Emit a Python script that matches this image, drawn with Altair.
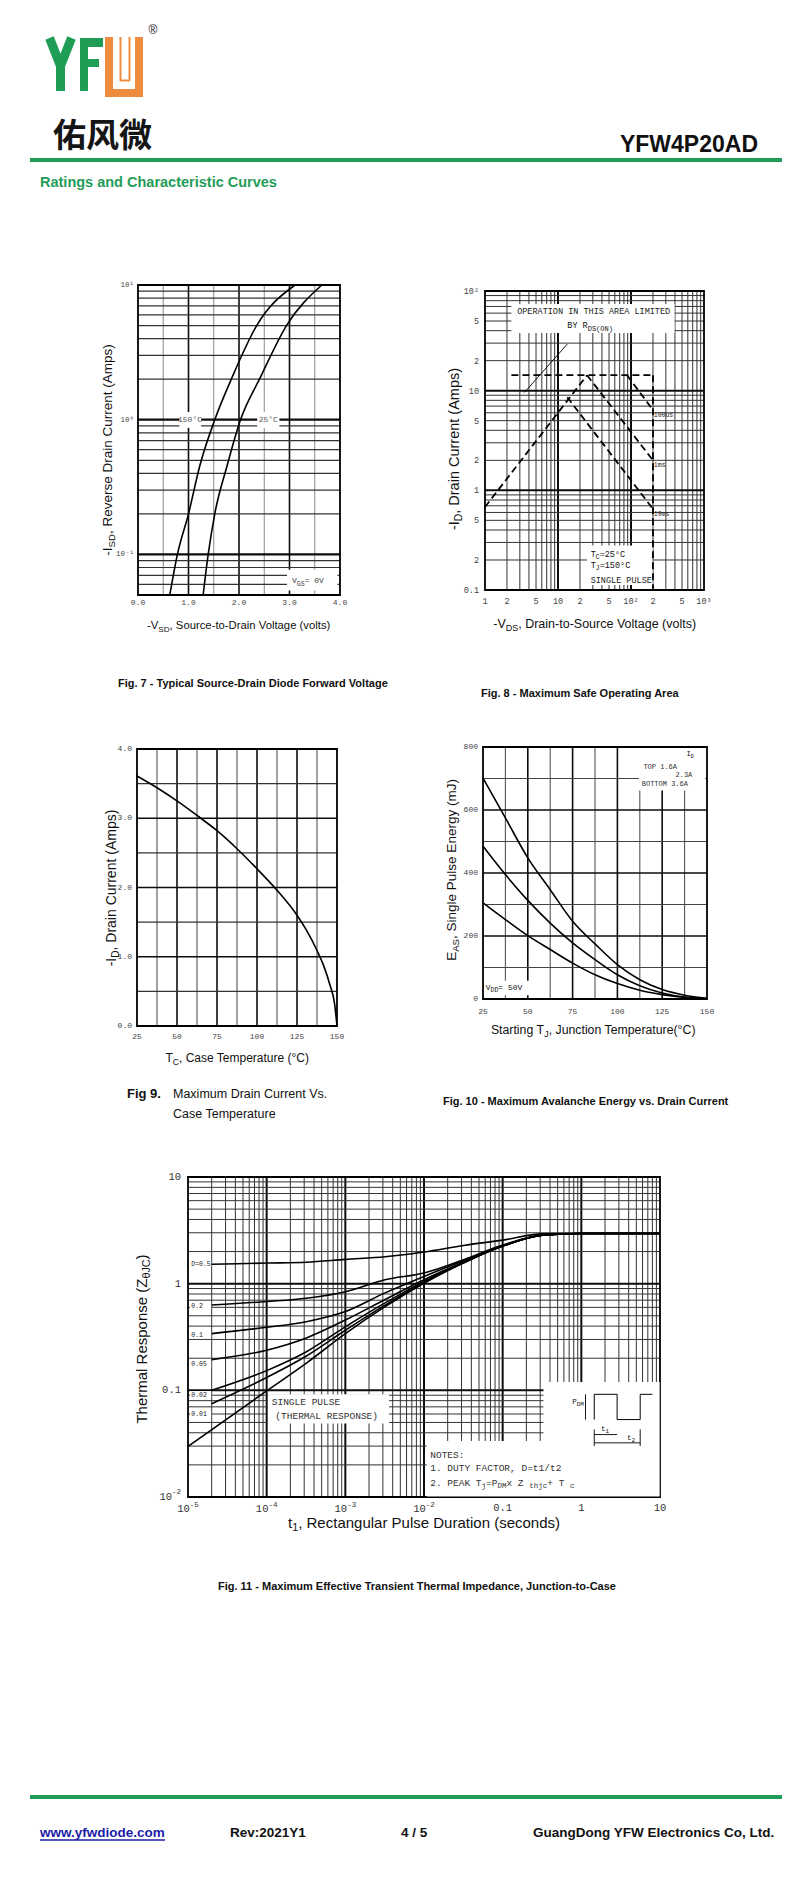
import altair as alt
import pandas as pd

# ============ DATA ============
# Fig 7 - source-drain diode forward voltage
F7_V_150 = [0.63, 0.78, 1.0, 1.22, 1.52, 1.86, 2.35, 3.11]
F7_I_150 = [0.05, 0.1, 0.2, 0.45, 1.0, 2.05, 5.0, 10.0]
F7_V_25 = [1.29, 1.39, 1.52, 1.76, 2.03, 2.42, 2.94, 3.64]
F7_I_25 = [0.05, 0.1, 0.2, 0.45, 1.0, 2.05, 5.0, 10.0]
F7_XTICKS = [0, 1, 2, 3, 4]
F7_XLABELS = ["0.0", "1.0", "2.0", "3.0", "4.0"]
F7_YTICKS = [0.1, 1, 10]
F7_YLABELS = ["10⁻¹", "10⁰", "10¹"]

# Fig 8 - safe operating area (dashed boundaries)
F8_RISE_V = [1, 25]
F8_RISE_I = [0.68, 14.3]
F8_TOP_V = [2.3, 200]
F8_TOP_I = [14.3, 14.3]
F8_100US_V = [88, 200]
F8_100US_I = [14.3, 6.4]
F8_1MS_V = [25, 200]
F8_1MS_I = [14.3, 2.0]
F8_10MS_V = [13.4, 200]
F8_10MS_I = [8.6, 0.65]
F8_EDGE_V = [200, 200]
F8_EDGE_I = [14.3, 0.1]
F8_XTICKS = [1, 2, 5, 10, 20, 50, 100, 200, 500, 1000]
F8_XLABELS = ["1", "2", "5", "10", "2", "5", "10²", "2", "5", "10³"]
F8_YTICKS = [0.1, 0.2, 0.5, 1, 2, 5, 10, 20, 50, 100]
F8_YLABELS = ["0.1", "2", "5", "1", "2", "5", "10", "2", "5", "10²"]

# Fig 9 - max drain current vs case temperature
F9_T = [25, 37.5, 50, 62.5, 75, 87.5, 100, 112.5, 125, 131, 137.5, 142, 145.5, 148.5, 150]
F9_I = [3.61, 3.44, 3.25, 3.04, 2.82, 2.56, 2.27, 1.96, 1.60, 1.38, 1.09, 0.85, 0.6, 0.32, 0.0]
F9_XTICKS = [25, 50, 75, 100, 125, 150]
F9_YTICKS = [0, 1, 2, 3, 4]
F9_YLABELS = ["0.0", "1.0", "2.0", "3.0", "4.0"]

# Fig 10 - avalanche energy vs starting Tj
F10_T = [25, 37.5, 50, 62.5, 75, 87.5, 100, 112.5, 125, 137.5, 150]
F10_E_16A = [701, 575, 448, 347, 247, 175, 109, 61, 30, 12, 2]
F10_E_23A = [485, 395, 313, 241, 178, 125, 77, 42, 19, 6, 1]
F10_E_36A = [305, 252, 201, 157, 114, 77, 49, 28, 14, 5, 1]
F10_XTICKS = [25, 50, 75, 100, 125, 150]
F10_YTICKS = [0, 200, 400, 600, 800]

# Fig 11 - transient thermal impedance
F11_T = [2e-5, 1e-4, 3.2e-4, 1e-3, 3.2e-3, 1e-2, 3.2e-2, 0.1, 0.32, 1, 10]
F11_D50 = [1.52, 1.56, 1.59, 1.69, 1.79, 1.98, 2.28, 2.56, 2.93, 2.95, 2.95]
F11_D20 = [0.63, 0.68, 0.73, 0.84, 1.09, 1.26, 1.68, 2.30, 2.86, 2.95, 2.95]
F11_D10 = [0.34, 0.39, 0.44, 0.547, 0.82, 1.17, 1.64, 2.27, 2.85, 2.95, 2.95]
F11_D05 = [0.194, 0.238, 0.31, 0.456, 0.71, 1.09, 1.60, 2.25, 2.84, 2.95, 2.95]
F11_D02 = [0.10, 0.153, 0.23, 0.394, 0.66, 1.05, 1.58, 2.25, 2.84, 2.95, 2.95]
F11_D01 = [0.075, 0.132, 0.21, 0.366, 0.63, 1.027, 1.57, 2.25, 2.84, 2.95, 2.95]
F11_TS = [1e-5, 1e-4, 3.2e-4, 1e-3, 3.2e-3, 1e-2, 3.2e-2, 0.1, 0.32, 1, 10]
F11_SINGLE = [0.0298, 0.0988, 0.18, 0.34, 0.61, 1.01, 1.57, 2.25, 2.84, 2.95, 2.95]
F11_DLABELS = ["D=0.5", "0.2", "0.1", "0.05", "0.02", "0.01"]
F11_DLABEL_Z = [1.52, 0.62, 0.33, 0.177, 0.091, 0.06]
F11_XPOW = [1e-5, 1e-4, 1e-3, 1e-2]
F11_XPOW_EXP = ["-5", "-4", "-3", "-2"]
F11_XPLAIN = [0.1, 1, 10]
F11_XPLAIN_LAB = ["0.1", "1", "10"]
F11_YPLAIN = [0.1, 1, 10]
F11_YPLAIN_LAB = ["0.1", "1", "10"]

# ============ STYLE / HELPERS ============
OFF = 8
SANS = "Liberation Sans, Arial, DejaVu Sans, sans-serif"
MONO = "Liberation Mono, DejaVu Sans Mono, monospace"
CJK = "Noto Sans CJK SC, sans-serif"
GREEN = "#1f9d57"
ORANGE = "#ee8b3e"
INK = "#111111"

_chars = " !\"#$%&'()*+,-./0123456789:;<=>?@ABCDEFGHIJKLMNOPQRSTUVWXYZ[\\]^_`abcdefghijklmnopqrstuvwxyz"
_w = ([278, 278, 355, 556, 556, 889, 667, 191, 333, 333, 389, 584, 278, 333, 278, 278] + [556] * 10 +
      [278, 278, 584, 584, 584, 556, 1015] +
      [667, 667, 722, 722, 667, 611, 778, 722, 278, 500, 667, 556, 833, 722, 778, 667, 778, 722, 667, 611,
       722, 667, 944, 667, 667, 611] +
      [278, 278, 278, 469, 556, 333] +
      [556, 556, 500, 556, 556, 278, 556, 556, 222, 222, 500, 222, 833, 556, 556, 556, 556, 333, 500, 278,
       556, 500, 722, 500, 500, 500])
HELV = dict(zip(_chars, _w))
HELV["°"] = 400
HELV["θ"] = 556


def tw(s, size, font, weight="normal"):
    first = font.split(",")[0]
    if "Mono" in first:
        return 0.6 * size * len(s)
    w = sum(HELV.get(c, 556) for c in s) / 1000.0 * size
    if weight == "bold":
        w *= 1.06
    return w


def P(v):
    return v - OFF


DUMMY = pd.DataFrame({"d": [0]})
layers = []


def add(*charts):
    layers.extend(charts)


def ptext(s, x, y, size, font=SANS, color=INK, weight="normal", align="left", angle=0, baseline="alphabetic"):
    return alt.Chart(DUMMY).mark_text(text=s, fontSize=size, font=font, color=color, fontWeight=weight,
                                      align=align, angle=angle, baseline=baseline).encode(
        x=alt.value(P(x)), y=alt.value(P(y)))


def prule(x1, y1, x2, y2, color, width, cap="butt"):
    return alt.Chart(DUMMY).mark_rule(color=color, strokeWidth=width, strokeCap=cap).encode(
        x=alt.value(P(x1)), y=alt.value(P(y1)), x2=alt.value(P(x2)), y2=alt.value(P(y2)))


def prect(x1, y1, x2, y2, color):
    return alt.Chart(DUMMY).mark_rect(color=color).encode(
        x=alt.value(P(x1)), y=alt.value(P(y1)), x2=alt.value(P(x2)), y2=alt.value(P(y2)))


def rich(parts, align="center", angle=0, px=None, data=None, xdata=None, ydata=None, color=INK,
         baseline="alphabetic"):
    """Multi-style text. Anchor: px=(x,y) page pixels; data=(xv,yv,XS,YS);
    xdata=(xv,XS) with y pixel px[1]; ydata=(yv,YS) with x pixel px[0]."""
    ws = [tw(t, s, f, w) for (t, s, f, w, sh) in parts]
    total = sum(ws)
    cur = {"center": -total / 2.0, "left": 0.0, "right": -total}[align]
    out = []
    for (t, s, f, w, sh), wd in zip(parts, ws):
        mk = dict(text=t, fontSize=s, font=f, fontWeight=w, color=color, align="left",
                  baseline=baseline, angle=angle, dx=cur, dy=sh)
        if data is not None:
            xv, yv, XS, YS = data
            ch = alt.Chart(pd.DataFrame({"x": [xv], "y": [yv]})).mark_text(**mk).encode(
                x=alt.X("x:Q", scale=XS, axis=None), y=alt.Y("y:Q", scale=YS, axis=None))
        elif xdata is not None:
            xv, XS = xdata
            ch = alt.Chart(pd.DataFrame({"x": [xv]})).mark_text(**mk).encode(
                x=alt.X("x:Q", scale=XS, axis=None), y=alt.value(P(px[1])))
        elif ydata is not None:
            yv, YS = ydata
            ch = alt.Chart(pd.DataFrame({"y": [yv]})).mark_text(**mk).encode(
                y=alt.Y("y:Q", scale=YS, axis=None), x=alt.value(P(px[0])))
        else:
            ch = alt.Chart(DUMMY).mark_text(**mk).encode(x=alt.value(P(px[0])), y=alt.value(P(px[1])))
        out.append(ch)
        cur += wd
    return out


def vlines(vals, XS, YS, ylo, yhi, color, width):
    df = pd.DataFrame({"v": vals, "a": [ylo] * len(vals), "b": [yhi] * len(vals)})
    return alt.Chart(df).mark_rule(color=color, strokeWidth=width).encode(
        x=alt.X("v:Q", scale=XS, axis=None), y=alt.Y("a:Q", scale=YS, axis=None), y2="b:Q")


def hlines(vals, XS, YS, xlo, xhi, color, width):
    df = pd.DataFrame({"v": vals, "a": [xlo] * len(vals), "b": [xhi] * len(vals)})
    return alt.Chart(df).mark_rule(color=color, strokeWidth=width).encode(
        y=alt.Y("v:Q", scale=YS, axis=None), x=alt.X("a:Q", scale=XS, axis=None), x2="b:Q")


def box(x0, x1, y0, y1, XS, YS, fill="white", stroke=None, sw=1.5):
    df = pd.DataFrame({"x0": [x0], "x1": [x1], "y0": [y0], "y1": [y1]})
    if stroke is None:
        m = alt.Chart(df).mark_rect(color=fill)
    else:
        m = alt.Chart(df).mark_rect(fillOpacity=0, stroke=stroke, strokeWidth=sw)
    return m.encode(x=alt.X("x0:Q", scale=XS, axis=None), x2="x1:Q",
                    y=alt.Y("y0:Q", scale=YS, axis=None), y2="y1:Q")


def curve(xs, ys, XS, YS, width=1.6, dash=None, interp="monotone"):
    df = pd.DataFrame({"x": xs, "y": ys})
    kw = dict(color="black", strokeWidth=width, interpolate=interp)
    if dash:
        kw["strokeDash"] = dash
    return alt.Chart(df).mark_line(**kw).encode(
        x=alt.X("x:Q", scale=XS, axis=None), y=alt.Y("y:Q", scale=YS, axis=None))


def dtext(s, xv, yv, XS, YS, size, font=MONO, align="left", color="#222", baseline="middle"):
    df = pd.DataFrame({"x": [xv], "y": [yv]})
    return alt.Chart(df).mark_text(text=s, fontSize=size, font=font, align=align, color=color,
                                   baseline=baseline).encode(
        x=alt.X("x:Q", scale=XS, axis=None), y=alt.Y("y:Q", scale=YS, axis=None))


def xticks(vals, labels, XS, ypix, size=8, font=MONO, color="#444"):
    df = pd.DataFrame({"v": vals, "lab": labels})
    return alt.Chart(df).mark_text(fontSize=size, font=font, color=color, align="center",
                                   baseline="middle").encode(
        x=alt.X("v:Q", scale=XS, axis=None), y=alt.value(P(ypix)), text="lab:N")


def yticks(vals, labels, YS, xpix, size=8, font=MONO, color="#444"):
    df = pd.DataFrame({"v": vals, "lab": labels})
    return alt.Chart(df).mark_text(fontSize=size, font=font, color=color, align="right",
                                   baseline="middle").encode(
        y=alt.Y("v:Q", scale=YS, axis=None), x=alt.value(P(xpix)), text="lab:N")


def lin(d, r):
    return alt.Scale(domain=d, range=[P(r[0]), P(r[1])], nice=False, zero=False)


def logs(d, r):
    return alt.Scale(type="log", domain=d, range=[P(r[0]), P(r[1])], nice=False)


def decade_minors(e0, e1):
    return [m * 10.0 ** e for e in range(e0, e1) for m in range(2, 10)]


def T(t, size, font=SANS, weight="normal", shift=0):
    return (t, size, font, weight, shift)


def axis_title(main1, sub, main2, size, **kw):
    return rich([T(main1, size), T(sub, round(size * 0.72, 1), shift=round(size * 0.22, 1)), T(main2, size)], **kw)


MINOR_C, MAJOR_C = "#333333", "#0d0d0d"

# ============ HEADER ============
add(prule(49.5, 38, 60.5, 66, GREEN, 9), prule(71.5, 38, 60.5, 66, GREEN, 9),
    prule(60.5, 62, 60.5, 91, GREEN, 9))
add(prect(80, 38, 88, 91, GREEN), prect(80, 38, 103, 47, GREEN), prect(80, 59, 99, 67, GREEN))
add(prect(105, 37, 143, 97, ORANGE), prect(113, 37, 135, 89, "white"),
    prule(120.5, 37, 120.5, 81, ORANGE, 2), prule(129.5, 37, 129.5, 81, ORANGE, 2),
    prule(120.5, 80.5, 129.5, 80.5, ORANGE, 2))
add(ptext("®", 153, 34, 12, align="center"))
add(ptext("佑风微", 53, 147, 33, font=CJK, weight="bold", color="#151515"))
add(ptext("YFW4P20AD", 758, 152, 23, weight="bold", align="right"))
add(prule(30, 160, 782, 160, GREEN, 4))
add(ptext("Ratings and Characteristic Curves", 40, 187, 14.5, weight="bold", color=GREEN))

# ============ FIG 7 ============
X7 = lin([0, 4], (138, 340))
Y7 = logs([0.05, 10], (595, 285))
add(vlines([0.5, 1.5, 2.5, 3.5], X7, Y7, 0.05, 10, "#8a8a8a", 1.0))
add(vlines([1, 2, 3], X7, Y7, 0.05, 10, MAJOR_C, 1.6))
add(hlines([0.06, 0.07, 0.08, 0.09] + decade_minors(-1, 1), X7, Y7, 0, 4, MINOR_C, 1.2))
add(hlines([0.1, 1], X7, Y7, 0, 4, MAJOR_C, 2.2))
add(box(0, 4, 0.05, 10, X7, Y7, stroke="black", sw=1.8))
add(box(0.82, 1.25, 0.87, 1.14, X7, Y7), box(2.36, 2.8, 0.87, 1.14, X7, Y7),
    box(2.95, 3.95, 0.054, 0.077, X7, Y7))
add(curve(F7_V_150, F7_I_150, X7, Y7), curve(F7_V_25, F7_I_25, X7, Y7))
add(dtext("150°C", 1.03, 1.0, X7, Y7, 8, align="center", color="#555"),
    dtext("25°C", 2.58, 1.0, X7, Y7, 8, align="center", color="#555"))
add(*rich([T("V", 8, MONO, shift=2), T("GS", 6.5, MONO, shift=5), T(" = 0V", 8, MONO, shift=2)],
          align="left", data=(3.05, 0.064, X7, Y7), color="#444"))
add(xticks(F7_XTICKS, F7_XLABELS, X7, 603, 8), yticks(F7_YTICKS, F7_YLABELS, Y7, 134, 7.5))
add(*axis_title("-V", "SD", ", Source-to-Drain Voltage (volts)", 11.3, px=(239, 629)))
add(*axis_title("-I", "SD", ", Reverse Drain Current (Amps)", 13.5, angle=270, px=(112, 450)))
add(ptext("Fig. 7 - Typical Source-Drain Diode Forward Voltage", 118, 687, 11, weight="bold"))

# ============ FIG 8 ============
X8 = logs([1, 1000], (485, 704))
Y8 = logs([0.1, 100], (590, 291))
add(vlines(decade_minors(0, 3), X8, Y8, 0.1, 100, MINOR_C, 1.0))
add(vlines([10, 100], X8, Y8, 0.1, 100, MAJOR_C, 2.0))
add(hlines(decade_minors(-1, 2), X8, Y8, 1, 1000, MINOR_C, 1.0))
add(hlines([1, 10], X8, Y8, 1, 1000, MAJOR_C, 2.0))
add(box(1, 1000, 0.1, 100, X8, Y8, stroke="black", sw=1.8))
add(box(2.3, 395, 38, 74, X8, Y8), box(25, 197, 0.112, 0.28, X8, Y8))
DASH = [7, 4]
for vv, ii in [(F8_RISE_V, F8_RISE_I), (F8_TOP_V, F8_TOP_I), (F8_100US_V, F8_100US_I),
               (F8_1MS_V, F8_1MS_I), (F8_10MS_V, F8_10MS_I), (F8_EDGE_V, F8_EDGE_I)]:
    add(curve(vv, ii, X8, Y8, width=1.8, dash=DASH, interp="linear"))
add(curve([3.47, 13.4], [9.6, 29.3], X8, Y8, width=0.9, interp="linear"))
add(dtext("OPERATION IN THIS AREA LIMITED", 30.8, 63, X8, Y8, 8.5, align="center"))
add(*rich([T("BY R", 8.5, MONO), T("DS", 7, MONO, shift=3), T(" (ON)", 7, MONO, shift=3)],
          align="left", data=(13.4, 43, X8, Y8)))
add(dtext("100us", 205, 5.75, X8, Y8, 6.5), dtext("1ms", 205, 1.78, X8, Y8, 6.5),
    dtext("10ms", 205, 0.58, X8, Y8, 6.5))
add(*rich([T("T", 8.5, MONO), T("C", 6.5, MONO, shift=2), T("=25°C", 8.5, MONO)], align="left",
          data=(28, 0.215, X8, Y8)))
add(*rich([T("T", 8.5, MONO), T("J", 6.5, MONO, shift=2), T("=150°C", 8.5, MONO)], align="left",
          data=(28, 0.165, X8, Y8)))
add(dtext("SINGLE PULSE", 28, 0.127, X8, Y8, 8.5))
add(xticks(F8_XTICKS, F8_XLABELS, X8, 601, 8.5), yticks(F8_YTICKS, F8_YLABELS, Y8, 479, 8.5))
add(*axis_title("-V", "DS", ", Drain-to-Source Voltage (volts)", 12.5, px=(595, 628)))
add(*axis_title("-I", "D", ",  Drain Current (Amps)", 14.5, angle=270, px=(459, 447)))
add(ptext("Fig. 8 - Maximum Safe Operating Area", 481, 697, 11, weight="bold"))

# ============ FIG 9 ============
X9 = lin([25, 150], (137, 337))
Y9 = lin([0, 4], (1026, 749))
add(vlines([37.5, 62.5, 87.5, 112.5, 137.5], X9, Y9, 0, 4, "#555555", 1.1))
add(vlines([50, 75, 100, 125], X9, Y9, 0, 4, MAJOR_C, 1.6))
add(hlines([0.5, 1.5, 2.5, 3.5], X9, Y9, 25, 150, "#333333", 1.3))
add(hlines([1, 2, 3], X9, Y9, 25, 150, MAJOR_C, 1.7))
add(box(25, 150, 0, 4, X9, Y9, stroke="black", sw=1.8))
add(curve(F9_T, F9_I, X9, Y9, width=1.6))
add(xticks(F9_XTICKS, [str(v) for v in F9_XTICKS], X9, 1037, 8),
    yticks(F9_YTICKS, F9_YLABELS, Y9, 132, 8))
add(*axis_title("T", "C", ", Case Temperature (°C)", 12, px=(238, 1062)))
add(*axis_title("-I", "D", ", Drain Current (Amps)", 14, angle=270, px=(116, 888)))
add(ptext("Fig 9.", 127, 1098, 13, weight="bold"))
add(ptext("Maximum Drain Current Vs.", 173, 1098, 12.5))
add(ptext("Case Temperature", 173, 1118, 12.5))

# ============ FIG 10 ============
X10 = lin([25, 150], (483, 707))
Y10 = lin([0, 800], (999, 747))
add(vlines([37.5, 62.5, 87.5, 112.5, 137.5], X10, Y10, 0, 800, "#555555", 1.1))
add(vlines([50, 75, 100, 125], X10, Y10, 0, 800, MAJOR_C, 1.6))
add(hlines([100, 300, 500, 700], X10, Y10, 25, 150, "#444444", 1.2))
add(hlines([200, 400, 600], X10, Y10, 25, 150, MAJOR_C, 1.7))
add(box(25, 150, 0, 800, X10, Y10, stroke="black", sw=1.8))
add(box(112, 149, 662, 797, X10, Y10), box(25.6, 52, 12, 58, X10, Y10))
add(curve(F10_T, F10_E_16A, X10, Y10), curve(F10_T, F10_E_23A, X10, Y10), curve(F10_T, F10_E_36A, X10, Y10))
add(*rich([T("I", 7, MONO), T("D", 5.5, MONO, shift=2)], align="left", data=(138.5, 772, X10, Y10)))
add(dtext("TOP    1.6A", 114.5, 737, X10, Y10, 7, color="#333"),
    dtext("2.3A", 141.8, 710, X10, Y10, 7, align="right", color="#333"),
    dtext("BOTTOM 3.6A", 113.6, 683, X10, Y10, 7, color="#333"))
add(*rich([T("V", 8, MONO), T("DD", 6.5, MONO, shift=2), T(" = 50V", 8, MONO)], align="left",
          data=(26.5, 28, X10, Y10)))
add(xticks(F10_XTICKS, [str(v) for v in F10_XTICKS], X10, 1012, 8),
    yticks(F10_YTICKS, [str(v) for v in F10_YTICKS], Y10, 478, 8))
add(*axis_title("Starting T", "J", ", Junction Temperature(°C)", 12.3, px=(594, 1034)))
add(*axis_title("E", "AS", ", Single Pulse Energy (mJ)", 13.5, angle=270, px=(456, 870)))
add(ptext("Fig. 10 - Maximum Avalanche Energy vs. Drain Current", 443, 1105, 11, weight="bold"))

# ============ FIG 11 ============
X11 = logs([1e-5, 10], (188, 660))
Y11 = logs([0.01, 10], (1497, 1177))
add(vlines(decade_minors(-5, 1), X11, Y11, 0.01, 10, MINOR_C, 1.0))
add(vlines([1e-4, 1e-3, 1e-2, 0.1, 1], X11, Y11, 0.01, 10, MAJOR_C, 2.0))
add(hlines(decade_minors(-2, 1), X11, Y11, 1e-5, 10, MINOR_C, 1.0))
add(hlines([0.1, 1], X11, Y11, 1e-5, 10, MAJOR_C, 2.0))
add(box(1e-5, 10, 0.01, 10, X11, Y11, stroke="black", sw=1.8))
for z in F11_DLABEL_Z:
    add(box(1.06e-5, 1.97e-5, z / 1.08, z * 1.08, X11, Y11))
add(box(1.04e-4, 3.6e-3, 0.049, 0.092, X11, Y11))
add(box(0.33, 9.9, 0.0335, 0.12, X11, Y11))
add(box(1.08e-2, 9.9, 0.0101, 0.0335, X11, Y11))
for zs in [F11_D50, F11_D20, F11_D10, F11_D05, F11_D02, F11_D01]:
    add(curve(F11_T, zs, X11, Y11, width=1.6))
add(curve(F11_TS, F11_SINGLE, X11, Y11, width=1.6))
for lab, z in zip(F11_DLABELS, F11_DLABEL_Z):
    add(dtext(lab, 1.1e-5, z, X11, Y11, 6.5))
add(dtext("SINGLE PULSE", 1.16e-4, 0.078, X11, Y11, 9.5, color="#333"),
    dtext("(THERMAL RESPONSE)", 1.29e-4, 0.058, X11, Y11, 9.5, color="#333"))
add(dtext("NOTES:", 1.2e-2, 0.025, X11, Y11, 9.5, color="#333"),
    dtext("1. DUTY FACTOR, D=t1/t2", 1.2e-2, 0.0187, X11, Y11, 9.5, color="#333"))
add(*rich([T("2. PEAK T", 9.5, MONO), T("j", 7.5, MONO, shift=2), T("=P", 9.5, MONO),
           T("DM", 7.5, MONO, shift=2), T(" x Z", 9.5, MONO), T("thjc", 7.5, MONO, shift=2),
           T(" + T", 9.5, MONO), T("c", 7.5, MONO, shift=2)], align="left",
          data=(1.2e-2, 0.0126, X11, Y11), color="#333"))
add(curve([1.46, 1.46, 2.85, 2.85, 5.6, 5.6, 8.0], [0.0532, 0.0918, 0.0918, 0.0532, 0.0532, 0.0918, 0.0918],
          X11, Y11, width=1.0, interp="linear"))
add(curve([1.13, 1.13], [0.0532, 0.0918], X11, Y11, width=0.9, interp="linear"))
add(curve([1.46, 2.85], [0.0385, 0.0385], X11, Y11, width=0.9, interp="linear"))
add(curve([1.46, 5.6], [0.0322, 0.0322], X11, Y11, width=0.9, interp="linear"))
add(curve([1.46, 1.46], [0.03, 0.043], X11, Y11, width=0.9, interp="linear"))
add(curve([5.6, 5.6], [0.03, 0.043], X11, Y11, width=0.9, interp="linear"))
add(*rich([T("P", 7.5, MONO), T("DM", 6, MONO, shift=2)], align="right", data=(1.08, 0.075, X11, Y11)))
add(*rich([T("t", 7.5, MONO), T("1", 6, MONO, shift=2)], align="center", data=(2.0, 0.0415, X11, Y11)))
add(*rich([T("t", 7.5, MONO), T("2", 6, MONO, shift=2)], align="center", data=(4.3, 0.0345, X11, Y11)))
# tick labels with real superscripts
for v, e in zip(F11_XPOW, F11_XPOW_EXP):
    add(*rich([T("10", 10.5, MONO), T(e, 7.5, MONO, shift=-5)], align="center",
              xdata=(v, X11), px=(0, 1512), color="#333"))
add(xticks(F11_XPLAIN, F11_XPLAIN_LAB, X11, 1508, 10.5, color="#333"))
add(*rich([T("10", 10.5, MONO), T("-2", 7.5, MONO, shift=-5)], align="right",
          ydata=(0.01, Y11), px=(181, 0), color="#333", baseline="middle"))
add(yticks(F11_YPLAIN, F11_YPLAIN_LAB, Y11, 181, 10.5, color="#333"))
add(*axis_title("t", "1", ", Rectangular Pulse Duration (seconds)", 15, px=(424, 1528)))
add(*axis_title("Thermal Response (Z", "θJC", ")", 15, angle=270, px=(147, 1339)))
add(ptext("Fig. 11 - Maximum Effective Transient Thermal Impedance, Junction-to-Case", 218, 1590, 11,
          weight="bold"))

# ============ FOOTER ============
add(prule(30, 1797, 782, 1797, GREEN, 4))
add(ptext("www.yfwdiode.com", 40, 1837, 13.5, weight="bold", color="#1c1ca8"))
add(prule(40, 1840, 165, 1840, "#1c1ca8", 1.3))
add(ptext("Rev:2021Y1", 230, 1837, 13.5, weight="bold"))
add(ptext("4 / 5", 401, 1837, 13.5, weight="bold"))
add(ptext("GuangDong YFW Electronics Co, Ltd.", 533, 1837, 13.5, weight="bold"))

chart = alt.layer(*layers).resolve_scale(x="independent", y="independent").properties(
    width=784, height=1882, padding=0, background="white",
    autosize=alt.AutoSizeParams(type="none")
).configure_view(stroke=None)

chart.save("out.html", embed_options={"renderer": "svg", "actions": False})
